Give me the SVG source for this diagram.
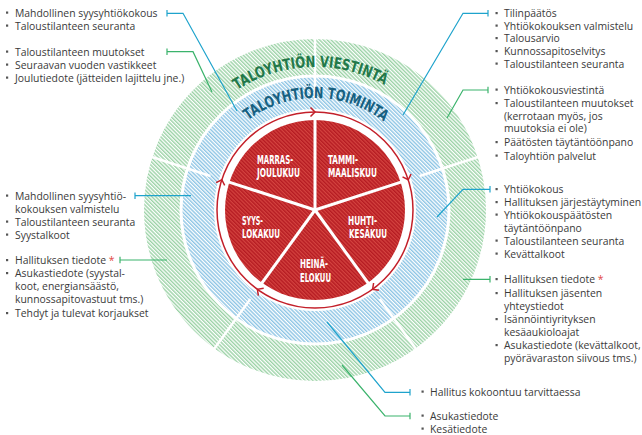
<svg xmlns="http://www.w3.org/2000/svg" width="642" height="435" viewBox="0 0 642 435">
<defs>
<pattern id="hg" patternUnits="userSpaceOnUse" width="2.7" height="10" patternTransform="rotate(-45)">
<rect width="2.7" height="10" fill="#ffffff"/><rect width="1.4" height="10" fill="#9bd2a6"/>
</pattern>
<pattern id="hb" patternUnits="userSpaceOnUse" width="2.7" height="10" patternTransform="rotate(-45)">
<rect width="2.7" height="10" fill="#ffffff"/><rect width="1.4" height="10" fill="#8cc4e4"/>
</pattern>
<pattern id="hr" patternUnits="userSpaceOnUse" width="2.7" height="10" patternTransform="rotate(-45)">
<rect width="2.7" height="10" fill="#d4433f"/><rect width="1.4" height="10" fill="#b51b22"/>
</pattern>
<path id="pg" d="M172,210 A143,143 0 0 1 458,210"/>
<path id="pb" d="M203,210 A112,112 0 0 1 427,210"/>
<path id="ah" d="M310.5,107.5 L315,112 L310.5,116.5" fill="none" stroke="#c3202a" stroke-width="1.5"/>
<line id="rd" x1="315" y1="37" x2="315" y2="100" stroke="#ffffff" stroke-width="2.5"/>
<line id="pd" x1="315" y1="210" x2="315" y2="118" stroke="#ffffff" stroke-width="3"/>
</defs>
<style>
.t{font-family:"Open Sans","Noto Sans","DejaVu Sans",sans-serif;font-size:10.4px;fill:#3a3a3a}
.ast{fill:#e2483f}
.bl{fill:#555555}
.lb{fill:none;stroke:#1ea3cc;stroke-width:1.2}
.lg{fill:none;stroke:#3bb36c;stroke-width:1.2}
.ring{font-family:"Liberation Sans Narrow","DejaVu Sans Condensed","DejaVu Sans",sans-serif;font-stretch:condensed;font-weight:bold;font-size:15.5px}
.pl{font-family:"Liberation Sans Narrow","DejaVu Sans Condensed","DejaVu Sans",sans-serif;font-stretch:condensed;font-weight:bold;font-size:11.5px;fill:#ffffff}
</style>
<rect width="642" height="435" fill="#ffffff"/>

<g id="wheel">
<circle cx="315" cy="210" r="153.25" fill="none" stroke="url(#hg)" stroke-width="35.5"/>
<circle cx="315" cy="210" r="116.75" fill="none" stroke="url(#hb)" stroke-width="31.5"/>
<use href="#rd"/>
<use href="#rd" transform="rotate(72 315 210)"/>
<use href="#rd" transform="rotate(144 315 210)"/>
<use href="#rd" transform="rotate(216 315 210)"/>
<use href="#rd" transform="rotate(288 315 210)"/>
<circle cx="315" cy="210" r="98" fill="none" stroke="#c3202a" stroke-width="1.5"/>
<use href="#ah"/>
<use href="#ah" transform="rotate(72 315 210)"/>
<use href="#ah" transform="rotate(144 315 210)"/>
<use href="#ah" transform="rotate(216 315 210)"/>
<use href="#ah" transform="rotate(288 315 210)"/>
<circle cx="315" cy="210" r="90" fill="url(#hr)"/>
<use href="#pd"/>
<use href="#pd" transform="rotate(72 315 210)"/>
<use href="#pd" transform="rotate(144 315 210)"/>
<use href="#pd" transform="rotate(216 315 210)"/>
<use href="#pd" transform="rotate(288 315 210)"/>
<text class="ring" fill="#22784a"><textPath href="#pg" startOffset="219.6" text-anchor="middle" textLength="155" lengthAdjust="spacingAndGlyphs">TALOYHTIÖN VIESTINTÄ</textPath></text>
<text class="ring" fill="#176080"><textPath href="#pb" startOffset="176.9" text-anchor="middle" textLength="146" lengthAdjust="spacingAndGlyphs">TALOYHTIÖN TOIMINTA</textPath></text>
</g>

<g id="months">
<text class="pl" x="257" y="163.5" textLength="36" lengthAdjust="spacingAndGlyphs">MARRAS-</text>
<text class="pl" x="257" y="176.7" textLength="43" lengthAdjust="spacingAndGlyphs">JOULUKUU</text>
<text class="pl" x="328" y="163.5" textLength="30" lengthAdjust="spacingAndGlyphs">TAMMI-</text>
<text class="pl" x="328" y="176.7" textLength="49" lengthAdjust="spacingAndGlyphs">MAALISKUU</text>
<text class="pl" x="242" y="225" textLength="21" lengthAdjust="spacingAndGlyphs">SYYS-</text>
<text class="pl" x="242" y="238.3" textLength="38" lengthAdjust="spacingAndGlyphs">LOKAKUU</text>
<text class="pl" x="348" y="225" textLength="29" lengthAdjust="spacingAndGlyphs">HUHTI-</text>
<text class="pl" x="349" y="238.3" textLength="38" lengthAdjust="spacingAndGlyphs">KESÄKUU</text>
<text class="pl" x="300" y="268.3" textLength="28" lengthAdjust="spacingAndGlyphs">HEINÄ-</text>
<text class="pl" x="300" y="281.7" textLength="31" lengthAdjust="spacingAndGlyphs">ELOKUU</text>
</g>

<g id="connectors">
<path class="lb" d="M167,10 V16.6 M167,13.3 H183 L237,111"/>
<path class="lg" d="M167,48.4 V55 M167,51.7 H193 L212,92"/>
<path class="lb" d="M488,10 V16.6 M488,13.3 H463 L403,115"/>
<path class="lg" d="M488,86.7 V93.3 M488,90 H463 L447,118"/>
<path class="lb" d="M135,192.4 V199 M135,195.7 H191"/>
<path class="lg" d="M120,256.7 V263.3 M120,260 H167"/>
<path class="lb" d="M490,186 V192.6 M490,189.3 H463 L437,217"/>
<path class="lg" d="M490,276 V282.6 M490,279.3 H463"/>
<path class="lb" d="M410,389 V395.6 M410,392.3 H385 L327,322"/>
<path class="lg" d="M410,412.7 V419.3 M410,416 H385 L342,365"/>
</g>

<g id="list-l1">
<rect class="bl" x="6" y="11.5" width="2.2" height="2.2"/>
<text class="t" x="15" y="16.5">Mahdollinen syysyhtiökokous</text>
<rect class="bl" x="6" y="24.5" width="2.2" height="2.2"/>
<text class="t" x="15" y="29.5">Taloustilanteen seuranta</text>
</g>
<g id="list-l2">
<rect class="bl" x="6" y="50.5" width="2.2" height="2.2"/>
<text class="t" x="15" y="55.5">Taloustilanteen muutokset</text>
<rect class="bl" x="6" y="63.5" width="2.2" height="2.2"/>
<text class="t" x="15" y="68.5">Seuraavan vuoden vastikkeet</text>
<rect class="bl" x="6" y="76.5" width="2.2" height="2.2"/>
<text class="t" x="15" y="81.5">Joulutiedote (jätteiden lajittelu jne.)</text>
</g>
<g id="list-l3">
<rect class="bl" x="6" y="194.5" width="2.2" height="2.2"/>
<text class="t" x="15" y="199.5">Mahdollinen syysyhtiö-</text>
<text class="t" x="15" y="212.5">kokouksen valmistelu</text>
<rect class="bl" x="6" y="220.5" width="2.2" height="2.2"/>
<text class="t" x="15" y="225.5">Taloustilanteen seuranta</text>
<rect class="bl" x="6" y="233.5" width="2.2" height="2.2"/>
<text class="t" x="15" y="238.5">Syystalkoot</text>
</g>
<g id="list-l4">
<rect class="bl" x="6" y="259" width="2.2" height="2.2"/>
<text class="t" x="15" y="264">Hallituksen tiedote <tspan class="ast">*</tspan></text>
<rect class="bl" x="6" y="272" width="2.2" height="2.2"/>
<text class="t" x="15" y="277">Asukastiedote (syystal-</text>
<text class="t" x="15" y="290">koot, energiansäästö,</text>
<text class="t" x="15" y="303">kunnossapitovastuut tms.)</text>
<rect class="bl" x="6" y="312" width="2.2" height="2.2"/>
<text class="t" x="15" y="317">Tehdyt ja tulevat korjaukset</text>
</g>

<g id="list-r1">
<rect class="bl" x="495.5" y="12" width="2.2" height="2.2"/>
<text class="t" x="504" y="17">Tilinpäätös</text>
<rect class="bl" x="495.5" y="24.5" width="2.2" height="2.2"/>
<text class="t" x="504" y="29.5">Yhtiökokouksen valmistelu</text>
<rect class="bl" x="495.5" y="37" width="2.2" height="2.2"/>
<text class="t" x="504" y="42">Talousarvio</text>
<rect class="bl" x="495.5" y="50" width="2.2" height="2.2"/>
<text class="t" x="504" y="55">Kunnossapitoselvitys</text>
<rect class="bl" x="495.5" y="62.5" width="2.2" height="2.2"/>
<text class="t" x="504" y="67.5">Taloustilanteen seuranta</text>
</g>
<g id="list-r2">
<rect class="bl" x="495.5" y="88.5" width="2.2" height="2.2"/>
<text class="t" x="504" y="93.5">Yhtiökokousviestintä</text>
<rect class="bl" x="495.5" y="102" width="2.2" height="2.2"/>
<text class="t" x="504" y="107">Taloustilanteen muutokset</text>
<text class="t" x="504" y="119.5">(kerrotaan myös, jos</text>
<text class="t" x="504" y="132">muutoksia ei ole)</text>
<rect class="bl" x="495.5" y="141" width="2.2" height="2.2"/>
<text class="t" x="504" y="146">Päätösten täytäntöönpano</text>
<rect class="bl" x="495.5" y="154.5" width="2.2" height="2.2"/>
<text class="t" x="504" y="159.5">Taloyhtiön palvelut</text>
</g>
<g id="list-r3">
<rect class="bl" x="495.5" y="188" width="2.2" height="2.2"/>
<text class="t" x="504" y="193">Yhtiökokous</text>
<rect class="bl" x="495.5" y="201" width="2.2" height="2.2"/>
<text class="t" x="504" y="206">Hallituksen järjestäytyminen</text>
<rect class="bl" x="495.5" y="213.5" width="2.2" height="2.2"/>
<text class="t" x="504" y="218.5">Yhtiökokouspäätösten</text>
<text class="t" x="504" y="232">täytäntöönpano</text>
<rect class="bl" x="495.5" y="239.5" width="2.2" height="2.2"/>
<text class="t" x="504" y="244.5">Taloustilanteen seuranta</text>
<rect class="bl" x="495.5" y="252.5" width="2.2" height="2.2"/>
<text class="t" x="504" y="257.5">Kevättalkoot</text>
</g>
<g id="list-r4">
<rect class="bl" x="495.5" y="278" width="2.2" height="2.2"/>
<text class="t" x="504" y="283">Hallituksen tiedote <tspan class="ast">*</tspan></text>
<rect class="bl" x="495.5" y="292" width="2.2" height="2.2"/>
<text class="t" x="504" y="297">Hallituksen jäsenten</text>
<text class="t" x="504" y="309.5">yhteystiedot</text>
<rect class="bl" x="495.5" y="318" width="2.2" height="2.2"/>
<text class="t" x="504" y="323">Isännöintiyrityksen</text>
<text class="t" x="504" y="335.5">kesäaukioloajat</text>
<rect class="bl" x="495.5" y="344" width="2.2" height="2.2"/>
<text class="t" x="504" y="349">Asukastiedote (kevättalkoot,</text>
<text class="t" x="504" y="361.5">pyörävaraston siivous tms.)</text>
</g>
<g id="list-b1">
<rect class="bl" x="421.5" y="390.5" width="2.2" height="2.2"/>
<text class="t" x="430" y="395.5">Hallitus kokoontuu tarvittaessa</text>
</g>
<g id="list-b2">
<rect class="bl" x="421.5" y="414.5" width="2.2" height="2.2"/>
<text class="t" x="430" y="419.5">Asukastiedote</text>
<rect class="bl" x="421.5" y="427.5" width="2.2" height="2.2"/>
<text class="t" x="430" y="432.5">Kesätiedote</text>
</g>
</svg>
